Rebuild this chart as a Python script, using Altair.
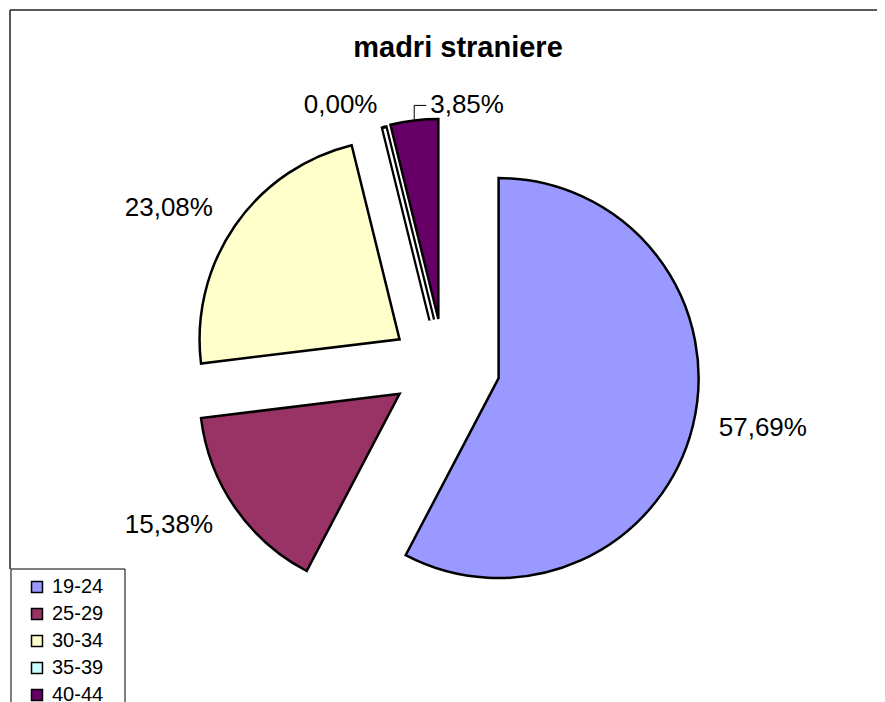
import altair as alt
import pandas as pd

# ---- data ----
categories = ["19-24", "25-29", "30-34", "35-39", "40-44"]
shares = [57.69, 15.38, 23.08, 0.00, 3.85]
slice_colors = ["#9999FF", "#993366", "#FFFFCC", "#CCFFFF", "#660066"]
title_text = "madri straniere"

labels = [f"{v:.2f}".replace(".", ",") + "%" for v in shares]
df = pd.DataFrame({
    "fascia": categories,
    "quota": shares,
    "etichetta": labels,
    "ordine": list(range(len(categories))),
})

# ---- layout (chart pixels) ----
W, H = 869, 694
CX, CY = 437.0, 358.6     # pie centre
R = 200                   # pie radius
D = 48                    # explode distance
SX = 1.15                 # horizontal stretch of the explode offsets
LG = 8                    # label gap
SXL = 1.09
LEAD = 15
FONT = "Liberation Sans"

base = alt.Chart(df).transform_joinaggregate(
    totale="sum(quota)"
).transform_window(
    cum="sum(quota)", sort=[alt.SortField("ordine")], frame=[None, 0]
).transform_calculate(
    t1="datum.cum / datum.totale * 2 * PI",
    t0="(datum.cum - datum.quota) / datum.totale * 2 * PI",
).transform_calculate(
    m="(datum.t0 + datum.t1) / 2",
).transform_calculate(
    vx=f"{CX} + {D * SX} * sin(datum.m)",
    vy=f"{CY} - {D} * cos(datum.m)",
    lead="datum.quota > 0 && datum.quota / datum.totale < 0.05",
)

pos = dict(
    x=alt.X("vx:Q", scale=None),
    y=alt.Y("vy:Q", scale=None),
    theta=alt.Theta("t0:Q", scale=None, stack=None),
    theta2="t1:Q",
)

arcs = base.mark_arc(radius=R, stroke="black", strokeWidth=2.5).encode(
    color=alt.Color(
        "fascia:N",
        scale=alt.Scale(domain=categories, range=slice_colors),
        legend=alt.Legend(
            title=None, orient="none", legendX=19, legendY=569,
            direction="vertical", symbolType="square", symbolSize=120,
            symbolStrokeColor="black", symbolStrokeWidth=1.5, symbolOpacity=1,
            labelFont=FONT, labelFontSize=20, labelColor="black",
            rowPadding=7, labelOffset=5, padding=0,
        ),
    ),
    **pos,
)

zero = base.transform_filter("datum.quota == 0")
zero_black = zero.mark_arc(radius=R, stroke="black", strokeWidth=7, fillOpacity=0).encode(**pos)
zero_white = zero.mark_arc(radius=R - 3, stroke="white", strokeWidth=2.5, fillOpacity=0).encode(**pos)

lab = base.transform_filter("!datum.lead").transform_calculate(
    lx=f"datum.vx + {(R + LG) * SXL} * sin(datum.m)",
    ly=f"datum.vy - {R + LG} * cos(datum.m)",
).mark_text(
    font=FONT, fontSize=26, color="black",
    align={"expr": "sin(datum.m) > 0.2 ? 'left' : (sin(datum.m) < -0.2 ? 'right' : 'center')"},
    baseline={"expr": "cos(datum.m) > 0.3 ? 'bottom' : (cos(datum.m) < -0.3 ? 'top' : 'middle')"},
).encode(
    x=alt.X("lx:Q", scale=None),
    y=alt.Y("ly:Q", scale=None),
    text="etichetta:N",
)

leadd = base.transform_filter("datum.lead").transform_calculate(
    ox=f"datum.vx + {R} * sin(datum.m)",
    oy=f"datum.vy - {R} * cos(datum.m)",
).transform_calculate(
    ly=f"datum.oy - {LEAD}",
    lx2="datum.ox + 12",
)
vrule = leadd.mark_rule(color="black", strokeWidth=1).encode(
    x=alt.X("ox:Q", scale=None), y=alt.Y("oy:Q", scale=None), y2="ly:Q")
hrule = leadd.mark_rule(color="black", strokeWidth=1).encode(
    x=alt.X("ox:Q", scale=None), x2="lx2:Q", y=alt.Y("ly:Q", scale=None))
leadtext = leadd.mark_text(font=FONT, fontSize=26, color="black", align="left",
                           baseline="middle", dx=4).encode(
    x=alt.X("lx2:Q", scale=None), y=alt.Y("ly:Q", scale=None), text="etichetta:N")

one = alt.Chart(pd.DataFrame({"t": [title_text]}))
title = one.mark_text(font=FONT, fontSize=29, fontWeight="bold", color="black",
                      align="center", baseline="alphabetic").encode(
    x=alt.value(450), y=alt.value(49), text="t:N")
frame_top = one.mark_rule(color="#222222", strokeWidth=1.5).encode(
    x=alt.value(2), x2=alt.value(W + 20), y=alt.value(2))
frame_left = one.mark_rule(color="#222222", strokeWidth=1.5).encode(
    x=alt.value(2), y=alt.value(2), y2=alt.value(561))
legend_box = one.mark_rect(fill="white", stroke="black", strokeWidth=1).encode(
    x=alt.value(3), x2=alt.value(117), y=alt.value(561), y2=alt.value(H + 20))

chart = alt.layer(
    frame_top, frame_left, legend_box, arcs, zero_black, zero_white,
    lab, vrule, hrule, leadtext, title,
).properties(
    width=W, height=H, autosize=alt.AutoSizeParams(type="none"), padding=0,
    background="white",
).configure_view(stroke=None)

chart.save("out.html", embed_options={"renderer": "svg", "actions": False})
